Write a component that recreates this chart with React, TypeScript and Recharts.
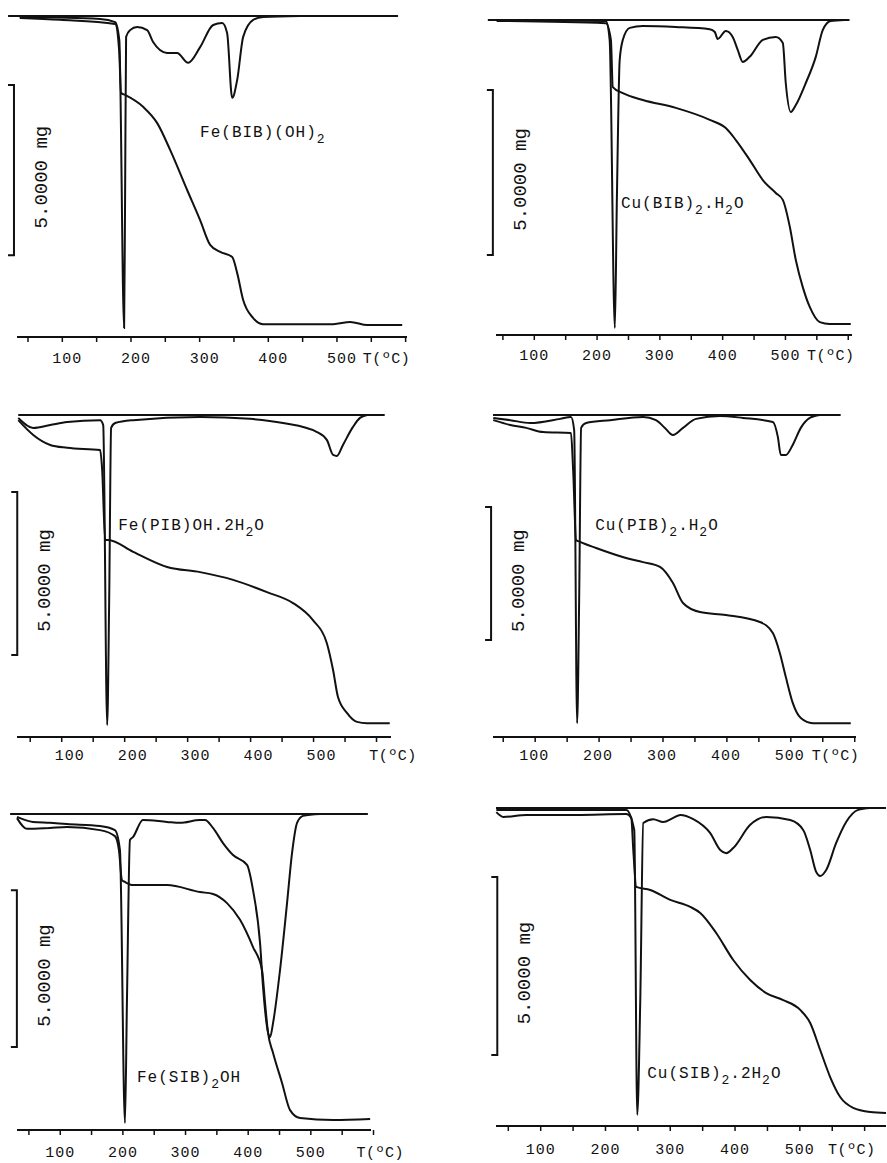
import React from 'react';
import { LineChart, Line, XAxis, YAxis, ReferenceLine, ReferenceDot } from 'recharts';

// shared temperature axis
const tempTicks = [50, 100, 150, 200, 250, 300, 350, 400, 450, 500, 550, 600];
const tempLabels = [100, 200, 300, 400, 500];
const unitLabel = 'T(ºC)';
const scaleLabel = '5.0000 mg';

// curves are [T (ºC), signal] with signal 0 = bottom axis, 100 = DTG zero line
// Fe(BIB)(OH)2
const feBibTg = [[38, 99.4], [97, 98.8], [177, 97.5], [182.7, 89.4], [185.6, 76.0], [191.4, 75.4], [217.6, 71.7], [238, 66.7], [257, 58.3], [281.8, 45.8], [300.7, 36.4], [315.3, 28.7], [330, 26.5], [347.4, 24.9], [354.7, 19.9], [363.4, 11.5], [378, 5.9], [392.6, 4.0], [494.6, 4.0], [519.4, 4.7], [544.2, 3.7], [595, 3.7]];
const feBibDtg = [[38, 99.7], [155, 99.1], [177, 98.1], [183, 92.5], [190, 2.8], [191.4, 42.7], [192.9, 93.5], [198.7, 95.6], [209, 96.6], [223.5, 95.6], [232.2, 91.9], [252.6, 88.5], [267.2, 88.5], [283.2, 85.4], [300.7, 90.3], [319.7, 97.2], [332.8, 97.8], [340, 94.7], [347.4, 74.5], [354.7, 80.1], [363.4, 93.5], [378, 98.8], [392.6, 99.7], [446.5, 100]];
const feBibBase = [21, 589];
const feBibBar = [29.6, 25.5, 78.5];

// Cu(BIB)2.H2O
const cuBibTg = [[40, 99.7], [214, 99.0], [222, 93.7], [225, 78.7], [241, 76.8], [273, 74.6], [325.4, 72.1], [379.5, 68.3], [405, 65.7], [421, 61.9], [443, 55.6], [464, 49.2], [484.6, 45.1], [495.8, 42.9], [507, 34.3], [516.5, 23.8], [527.6, 15.2], [538.7, 8.9], [554.7, 4.1], [570.6, 3.5], [604, 3.5]];
const cuBibDtg = [[40, 100], [214, 99.7], [220, 93.7], [228.3, 2.2], [231.5, 42.9], [236, 87.3], [241, 93.7], [252, 97.5], [273, 98.1], [325.4, 97.8], [379.5, 97.1], [387.5, 96.2], [392, 94.0], [405, 96.5], [416, 94.6], [424, 90.5], [432, 86.7], [443, 88.3], [464, 93.7], [484.6, 94.6], [495.8, 92.7], [500.5, 80.0], [508.5, 70.8], [516.5, 73.0], [532.4, 80.0], [548.3, 88.3], [559.4, 96.8], [572, 99.7], [594.5, 100]];
const cuBibBase = [26, 602];
const cuBibBar = [34, 25.4, 77.8];

// Fe(PIB)OH.2H2O
const fePibTg = [[31, 98.4], [54.8, 93.8], [81.7, 90.7], [108.7, 89.8], [161, 89.1], [164.3, 82.9], [169, 61.2], [173.8, 61.2], [213.5, 57.5], [267.4, 52.8], [319.8, 51.2], [372.2, 48.8], [426, 45.0], [467.4, 41.6], [499, 36.3], [521, 29.2], [531, 20.8], [538.8, 12.4], [553, 7.5], [569, 4.7], [585, 4.3], [621, 4.3]];
const fePibDtg = [[31, 99.1], [54.8, 96.0], [81.7, 96.9], [108.7, 97.8], [161, 98.4], [165.9, 96.9], [172.2, 3.7], [175.4, 42.5], [178.5, 96.0], [185, 97.5], [213.5, 98.4], [319.8, 99.4], [399, 98.8], [451.5, 97.5], [505.5, 94.7], [521.3, 92.2], [531, 87.6], [537, 87.3], [546.7, 90.7], [562.6, 96.3], [573.7, 99.1], [585, 100]];
const fePibBase = [31, 613];
const fePibBar = [29.4, 25.5, 76.1];

// Cu(PIB)2.H2O
const cuPibTg = [[34.4, 98.4], [61, 96.9], [86, 96.0], [112.5, 94.7], [156, 94.4], [159.4, 82.9], [164, 61.2], [170.3, 60.6], [195.3, 58.7], [242.2, 55.6], [268.8, 54.3], [295.3, 52.8], [315.6, 47.8], [331.3, 41.6], [357.8, 38.8], [398.4, 37.9], [451.6, 35.7], [471.9, 32.3], [482.8, 26.1], [492.2, 18.6], [503, 10.6], [515.6, 5.9], [534.4, 4.3], [593.8, 4.3]];
const cuPibDtg = [[34.4, 99.1], [61, 98.4], [92.2, 97.5], [139, 98.8], [156, 99.4], [161, 95.3], [165.6, 4.3], [168.8, 42.5], [171.9, 96.0], [179.7, 97.5], [217.2, 98.4], [268.8, 99.4], [289, 98.4], [303, 96.0], [315.6, 93.8], [331.3, 96.0], [351.6, 98.8], [389, 99.7], [425, 99.1], [471.9, 97.8], [479.7, 93.2], [484.4, 87.6], [492.2, 87.6], [503, 90.7], [515.6, 96.0], [529.7, 99.1], [545.3, 100]];
const cuPibBase = [34, 578];
const cuPibBar = [31, 30.1, 71.4];

// Fe(SIB)2OH
const feSibTg = [[31, 98.7], [46.8, 95.3], [83.5, 95.6], [110.7, 95.9], [163.4, 94.9], [187.3, 93.0], [193.7, 88.6], [198.5, 79.1], [203.3, 78.5], [216.1, 77.5], [270.4, 77.5], [323.1, 75.3], [343.8, 74.7], [366.2, 71.8], [387, 66.5], [407.7, 57.9], [422.1, 50.6], [426.9, 40.2], [431.7, 30.7], [439.7, 24.4], [454, 14.9], [466.8, 6.3], [482.8, 3.8], [535.5, 3.2], [594.6, 3.5]];
const feSibDtg = [[31, 99.1], [56.4, 97.5], [83.5, 97.2], [110.7, 96.8], [163.4, 96.2], [187.3, 94.9], [195.3, 88.6], [203.3, 2.2], [206.5, 41.1], [211.3, 91.8], [216.1, 92.7], [232, 98.1], [270.4, 97.5], [291.1, 97.2], [323.1, 98.1], [331, 98.1], [343.8, 95.6], [359.8, 90.8], [375.8, 87.0], [398.1, 83.9], [407.7, 75.9], [418.9, 59.2], [423.7, 45.3], [430.1, 32.6], [434.9, 29.4], [439.7, 33.9], [450.8, 50.6], [462, 71.8], [470, 87.7], [478, 97.2], [487.6, 99.4], [514.7, 100]];
const feSibBase = [20, 591];
const feSibBar = [30.8, 26.3, 75.9];

// Cu(SIB)2.2H2O
const cuSibTg = [[31.5, 98.7], [42.3, 97.2], [77.8, 97.8], [154.9, 97.8], [232, 98.1], [239.8, 96.9], [242.9, 86.8], [247.5, 75.2], [269.1, 74.2], [300, 71.1], [330.8, 68.9], [346.3, 67.0], [370.9, 60.7], [397.2, 52.2], [423.4, 45.9], [448.1, 41.8], [474.3, 39.6], [500.6, 36.5], [516, 32.4], [531.4, 23.9], [546.8, 15.4], [562.3, 9.1], [582.3, 5.7], [608.6, 4.4], [633, 4.1]];
const cuSibDtg = [[31.5, 99.4], [232, 99.4], [244.4, 93.1], [249, 3.5], [253.7, 39.6], [258.3, 95.3], [273.7, 96.5], [289.2, 95.6], [304.6, 96.9], [315.4, 97.8], [335.5, 96.5], [361.7, 92.1], [377.1, 86.8], [386.4, 85.8], [397.2, 87.4], [423.4, 94.7], [448.1, 97.2], [485.1, 96.2], [505.2, 93.1], [516, 86.8], [525.2, 79.9], [531.4, 78.6], [540.7, 80.5], [556.1, 89.0], [571.5, 95.6], [590, 99.4], [608.6, 100]];
const cuSibBase = [31, 633];
const cuSibBar = [33, 22.3, 78.3];

const INK = '#111';
const MONO = '"Liberation Mono", "DejaVu Sans Mono", monospace';

const toPts = (arr: number[][]) => arr.map(([t, v]) => ({ t, v }));

const panels = [
  {
    name: [{ s: 'Fe(BIB)(OH)' }, { s: '2', sub: true }], nameAt: [300.7, 62.3],
    tg: feBibTg, dtg: feBibDtg, base: feBibBase, bar: feBibBar, unitAt: 572,
    box: { x0: 17, x1: 407, top: 16, axis: 337 }, domain: [34, 602], shift: 5, dy: 18.5,
  },
  {
    name: [{ s: 'Cu(BIB)' }, { s: '2', sub: true }, { s: '.H' }, { s: '2', sub: true }, { s: 'O' }], nameAt: [237.9, 40.3],
    tg: cuBibTg, dtg: cuBibDtg, base: cuBibBase, bar: cuBibBar, unitAt: 572,
    box: { x0: 496, x1: 852, top: 20, axis: 335 }, domain: [39, 606], shift: 0, dy: 17.5,
  },
  {
    name: [{ s: 'Fe(PIB)OH.2H' }, { s: '2', sub: true }, { s: 'O' }], nameAt: [189.7, 64.3],
    tg: fePibTg, dtg: fePibDtg, base: fePibBase, bar: fePibBar, unitAt: 626,
    box: { x0: 17, x1: 391, top: 415, axis: 737 }, domain: [29, 623], shift: 8, dy: 15.5,
  },
  {
    name: [{ s: 'Cu(PIB)' }, { s: '2', sub: true }, { s: '.H' }, { s: '2', sub: true }, { s: 'O' }], nameAt: [193.8, 64.3],
    tg: cuPibTg, dtg: cuPibDtg, base: cuPibBase, bar: cuPibBar, unitAt: 570,
    box: { x0: 493, x1: 856, top: 415, axis: 737 }, domain: [34, 602], shift: -1, dy: 15.5,
  },
  {
    name: [{ s: 'Fe(SIB)' }, { s: '2', sub: true }, { s: 'OH' }], nameAt: [222.5, 15.2],
    tg: feSibTg, dtg: feSibDtg, base: feSibBase, bar: feSibBar, unitAt: 610.6,
    box: { x0: 17, x1: 371, top: 814, axis: 1130 }, domain: [31, 596], shift: 0, dy: 19.5,
  },
  {
    name: [{ s: 'Cu(SIB)' }, { s: '2', sub: true }, { s: '.2H' }, { s: '2', sub: true }, { s: 'O' }], nameAt: [264.5, 15.1],
    tg: cuSibTg, dtg: cuSibDtg, base: cuSibBase, bar: cuSibBar, unitAt: 580,
    box: { x0: 496, x1: 886, top: 808, axis: 1126 }, domain: [31, 633], shift: 0, dy: 20.5,
  },
];

const ScaleBar = ({ x1, y1, y2 }: any) => {
  const top = Math.min(y1, y2);
  const bot = Math.max(y1, y2);
  const mid = (top + bot) / 2 + 7;
  const tx = x1 + 33;
  return (
    <g>
      <path d={`M${x1 - 6},${top} H${x1} V${bot} H${x1 - 6}`} fill="none" stroke={INK} strokeWidth={2} />
      <text x={tx} y={mid} transform={`rotate(-90 ${tx} ${mid})`} textAnchor="middle"
        fontFamily={MONO} fontSize={19} fill={INK}>{scaleLabel}</text>
    </g>
  );
};

const NameMark = ({ cx, cy, parts }: any) => (
  <text x={cx} y={cy} fontFamily={MONO} fontSize={16} letterSpacing={1} fill={INK}>
    {parts.map((p: any, i: number) => {
      const prevSub = i > 0 && parts[i - 1].sub;
      const dy = p.sub ? 6 : prevSub ? -6 : 0;
      return <tspan key={i} dy={dy} fontSize={p.sub ? 13 : 16}>{p.s}</tspan>;
    })}
  </text>
);

const UnitMark = ({ cx, cy, dy }: any) => (
  <text x={cx} y={cy + 7 + dy} textAnchor="middle" fontFamily={MONO} fontSize={15} letterSpacing={0.5} fill={INK}>
    {unitLabel}
  </text>
);

const TempTick = ({ x, y, payload, shift, dy }: any) => {
  if (!tempLabels.includes(payload.value)) return <g />;
  return (
    <text x={x + shift} y={y + dy} textAnchor="middle" fontFamily={MONO} fontSize={15} letterSpacing={1} fill={INK}>
      {payload.value}
    </text>
  );
};

const Panel = ({ p }: any) => {
  const m = { top: 10, right: 45, bottom: 0, left: 45 };
  const axisH = 40;
  const plotW = p.box.x1 - p.box.x0;
  const plotH = p.box.axis - p.box.top;
  const [barT, barLo, barHi] = p.bar;
  return (
    <div style={{ position: 'absolute', left: p.box.x0 - m.left, top: p.box.top - m.top }}>
      <LineChart width={plotW + m.left + m.right} height={plotH + m.top + m.bottom + axisH} margin={m}>
        <XAxis type="number" dataKey="t" domain={p.domain} ticks={tempTicks} interval={0} height={axisH}
          tickSize={5} axisLine={{ stroke: INK, strokeWidth: 2 }} tickLine={{ stroke: INK, strokeWidth: 1.5 }}
          tick={(props: any) => <TempTick {...props} shift={p.shift} dy={p.dy} />} />
        <YAxis type="number" domain={[0, 100]} hide />
        <ReferenceLine segment={[{ x: p.base[0], y: 100 }, { x: p.base[1], y: 100 }]} ifOverflow="visible"
          stroke={INK} strokeWidth={2} />
        <ReferenceLine segment={[{ x: barT, y: barLo }, { x: barT, y: barHi }]} ifOverflow="visible"
          shape={(props: any) => <ScaleBar {...props} />} />
        <Line data={toPts(p.dtg)} dataKey="v" type="monotoneX" stroke={INK} strokeWidth={2} dot={false}
          isAnimationActive={false} />
        <Line data={toPts(p.tg)} dataKey="v" type="monotoneX" stroke={INK} strokeWidth={2} dot={false}
          isAnimationActive={false} />
        <ReferenceDot x={p.nameAt[0]} y={p.nameAt[1]} r={0} ifOverflow="visible"
          shape={(props: any) => <NameMark {...props} parts={p.name} />} />
        <ReferenceDot x={p.unitAt} y={0} r={0} ifOverflow="visible"
          shape={(props: any) => <UnitMark {...props} dy={p.dy} />} />
      </LineChart>
    </div>
  );
};

export default function App() {
  return (
    <div style={{ position: 'absolute', left: 0, top: 0, width: 887, height: 1163, overflow: 'hidden', background: '#fff' }}>
      {panels.map((p, i) => <Panel key={i} p={p} />)}
    </div>
  );
}
